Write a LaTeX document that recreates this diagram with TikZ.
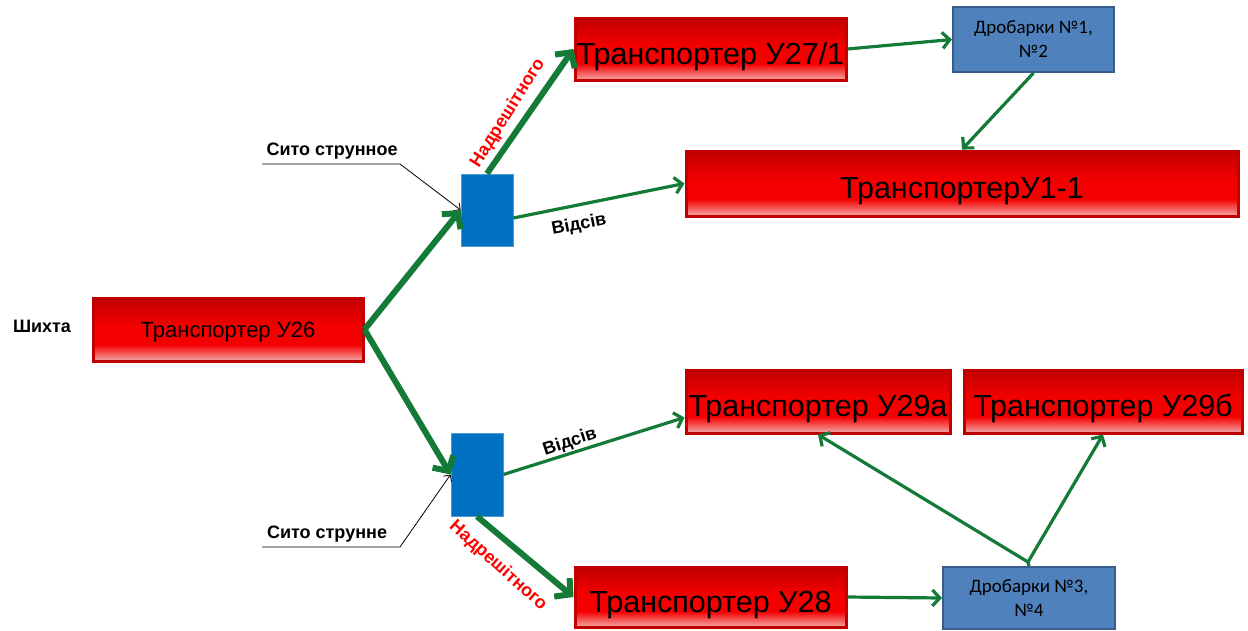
\documentclass[tikz,border=0pt]{standalone}
\usepackage{fontspec}
\setmainfont{Liberation Sans}
\newfontfamily\calib{Carlito}
\usetikzlibrary{arrows.meta,calc}
\definecolor{rtop}{HTML}{C20000}
\definecolor{rmid}{HTML}{F50000}
\definecolor{rbot}{HTML}{F4A8A8}
\definecolor{rborder}{HTML}{C00000}
\definecolor{sieveblue}{HTML}{0070C0}
\definecolor{crushblue}{HTML}{4F81BD}
\definecolor{crushedge}{HTML}{385D8A}
\definecolor{flowgreen}{RGB}{20,122,56}
\definecolor{labred}{HTML}{FF0000}
\pgfdeclareverticalshading{redgrad}{100bp}{color(0bp)=(rbot); color(25bp)=(rbot); color(38bp)=(rmid); color(52bp)=(rmid); color(75bp)=(rtop); color(100bp)=(rtop)}
\begin{document}
\begin{tikzpicture}[x=1pt,y=-1pt,
  redbox/.style={draw=rborder,line width=3pt,shade,shading=redgrad,inner sep=0pt,font=\fontsize{30.5}{34}\selectfont,text height=30pt,text depth=0pt},
  sievebox/.style={fill=sieveblue,draw=sieveblue!70!white,line width=0.8pt,inner sep=0pt},
  crushbox/.style={fill=crushblue,draw=crushedge,line width=2pt,inner sep=0pt,align=center,font=\calib\fontsize{19}{24}\selectfont},
  thickflow/.style={draw=flowgreen,line width=6pt,-{Straight Barb[length=11pt,width=24pt]}},
  thinflow/.style={draw=flowgreen,line width=3.2pt,-{Straight Barb[length=7.5pt,width=16pt]}},
  callout/.style={draw=black,line width=0.8pt,-{Straight Barb[length=5pt,width=10pt]}},
  boldlab/.style={font=\bfseries\fontsize{18}{21}\selectfont,inner sep=0pt},
  redlab/.style={font=\bfseries\fontsize{18}{21}\selectfont,text=labred,inner sep=0pt}
]
\useasboundingbox (0,0) rectangle (1248,630);

% boxes
\node[redbox,minimum width=270pt,minimum height=63pt,font=\fontsize{22}{26}\selectfont,text height=15.8pt] (u26) at (228,329.5) {Транспортер У26};
\node[sievebox,minimum width=52pt,minimum height=72pt] (s1) at (487,210) {};
\node[sievebox,minimum width=52pt,minimum height=83pt] (s2) at (477,474.5) {};
\node[redbox,minimum width=271pt,minimum height=62pt] (u27) at (710.5,49) {Транспортер У27/1};
\node[crushbox,minimum width=161pt,minimum height=65pt] (d12) at (1033.5,39.5) {Дробарки №1,\\№2};
\node[redbox,minimum width=552pt,minimum height=65pt] (u11) at (962,183.5) {ТранспортерУ1-1};
\node[redbox,minimum width=264pt,minimum height=63pt] (u29a) at (818,401.5) {Транспортер У29а};
\node[redbox,minimum width=278pt,minimum height=63pt] (u29b) at (1103,401.5) {Транспортер У29б};
\node[redbox,minimum width=271pt,minimum height=60pt] (u28) at (710.5,597) {Транспортер У28};
\node[crushbox,minimum width=172pt,minimum height=62pt] (d34) at (1029,598) {Дробарки №3,\\№4};

% plain labels
\node[boldlab] (shykhta) at (42,326) {Шихта};
\node[boldlab] (sito1) at (332,151) {Сито струнное};
\node[boldlab] (sito2) at (327,534) {Сито струнне};

\coordinate (c1a) at (262,164);
\coordinate (c1b) at (400,164);
\coordinate (c2a) at (262,547);
\coordinate (c2b) at (400,547);
\coordinate (j) at (1028,562);

% callouts
\draw[callout] (c1a) -- (c1b) -- (s1.west);
\draw[callout] (c2a) -- (c2b) -- (s2.west);

% flows
\draw[thickflow] (u26.east) -- (s1.west);
\draw[thickflow] (u26.east) -- (s2.west);
\draw[thickflow] (s1.north) -- (u27.west);
\draw[thickflow] (s2.south) -- (u28.west);
\draw[thinflow] ([yshift=-8pt]s1.east) -- (u11.west);
\draw[thinflow] (s2.east) -- ([yshift=-16pt]u29a.west);
\draw[thinflow] (u27.east) -- (d12.west);
\draw[thinflow] (d12.south) -- (u11.north);
\draw[thinflow] (u28.east) -- (d34.west);
\draw[draw=flowgreen,line width=3.2pt] (d34.north) -- (j);
\draw[thinflow] (j) -- (u29a.south);
\draw[thinflow] (j) -- (u29b.south);

% flow labels
\node[redlab,rotate=58] (nad1) at (508,113) {Надрешітного};
\node[redlab,rotate=-42] (nad2) at (498,566) {Надрешітного};
\node[boldlab,rotate=11] (vid1) at (579,225) {Відсів};
\node[boldlab,rotate=18] (vid2) at (570,442) {Відсів};
\end{tikzpicture}
\end{document}
